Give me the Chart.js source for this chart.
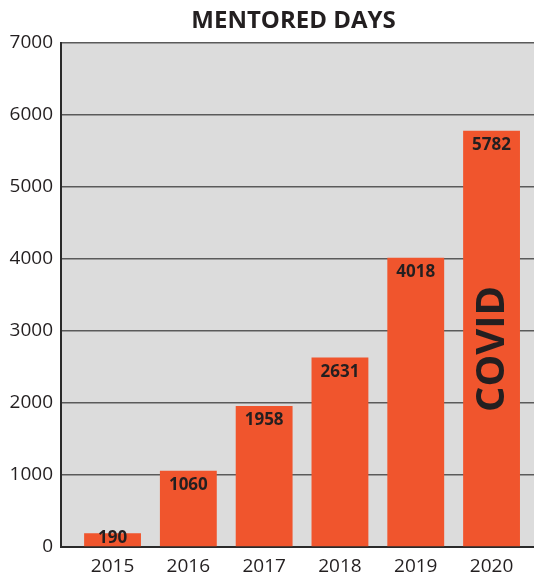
<!DOCTYPE html>
<html>
<head>
<meta charset="utf-8">
<script src="https://cdn.jsdelivr.net/npm/chart.js@4"></script>
<style>
  html, body { margin: 0; padding: 0; background: #fff; }
  #wrap { width: 534px; height: 575px; }
</style>
</head>
<body>
<div id="wrap"><canvas id="mentoredDays"></canvas></div>
<script>
// mentored days per year
const years = [2015, 2016, 2017, 2018, 2019, 2020];
const days = [190, 1060, 1958, 2631, 4018, 5782];
const yTicks = [0, 1000, 2000, 3000, 4000, 5000, 6000, 7000];
const titleText = 'MENTORED DAYS';
const note = { year: 2020, text: 'COVID', value: 2750 };

const FONT = '"Open Sans", "DejaVu Sans", sans-serif';
const INK = '#231f20';

// gray plot background + title
const backdrop = {
  id: 'backdrop',
  beforeDraw(chart) {
    const { ctx, chartArea: a } = chart;
    ctx.save();
    ctx.fillStyle = '#dcdcdc';
    ctx.fillRect(a.left, a.top, a.right - a.left, a.bottom - a.top);
    ctx.fillStyle = INK;
    ctx.font = 'bold 24px ' + FONT;
    ctx.textAlign = 'center';
    ctx.textBaseline = 'middle';
    ctx.fillText(titleText, (a.left + a.right) / 2 - 4, 21);
    ctx.restore();
  }
};

// value labels inside bars and the COVID note
const barLabels = {
  id: 'barLabels',
  afterDatasetsDraw(chart) {
    const { ctx } = chart;
    const meta = chart.getDatasetMeta(0);
    ctx.save();
    ctx.fillStyle = INK;
    ctx.textAlign = 'center';
    ctx.textBaseline = 'top';
    ctx.font = 'bold 17px ' + FONT;
    meta.data.forEach((bar, i) => {
      const y = Math.min(bar.y + 6, bar.base - 17);
      ctx.fillText(String(days[i]), bar.x, y);
    });
    const idx = years.indexOf(note.year);
    const bar = meta.data[idx];
    const y = chart.scales.y.getPixelForValue(note.value);
    ctx.translate(bar.x, y);
    ctx.rotate(-Math.PI / 2);
    ctx.textBaseline = 'middle';
    ctx.font = 'bold 40px ' + FONT;
    ctx.fillText(note.text, 0, 1);
    ctx.restore();
  }
};

new Chart(document.getElementById('mentoredDays'), {
  type: 'bar',
  data: {
    datasets: [{
      data: years.map((yr, i) => ({ x: yr, y: days[i] })),
      backgroundColor: '#f0552d',
      categoryPercentage: 1,
      barPercentage: 0.75
    }]
  },
  options: {
    responsive: true,
    maintainAspectRatio: false,
    animation: false,
    layout: { padding: { top: 43, right: 0, left: 0, bottom: 0 } },
    plugins: {
      legend: { display: false },
      tooltip: { enabled: false }
    },
    scales: {
      x: {
        type: 'linear',
        offset: false,
        min: 2014.32,
        max: 2020.56,
        afterBuildTicks(axis) { axis.ticks = years.map(v => ({ value: v })); },
        afterFit(axis) { axis.height = 28; },
        grid: { display: false, drawTicks: false, offset: false },
        border: { color: '#2a2a2a', width: 2 },
        ticks: {
          padding: 8,
          color: INK,
          font: { family: FONT, size: 19 },
          callback: v => String(v)
        }
      },
      y: {
        min: 0,
        max: 7000,
        afterBuildTicks(axis) { axis.ticks = yTicks.map(v => ({ value: v })); },
        afterFit(axis) { axis.width = 61; },
        grid: { color: '#5a5a5a', lineWidth: 1.5, drawTicks: false },
        border: { color: '#2a2a2a', width: 2 },
        ticks: {
          padding: 8,
          color: INK,
          font: { family: FONT, size: 19 },
          callback: v => String(v)
        }
      }
    }
  },
  plugins: [backdrop, barLabels]
});
</script>
</body>
</html>
